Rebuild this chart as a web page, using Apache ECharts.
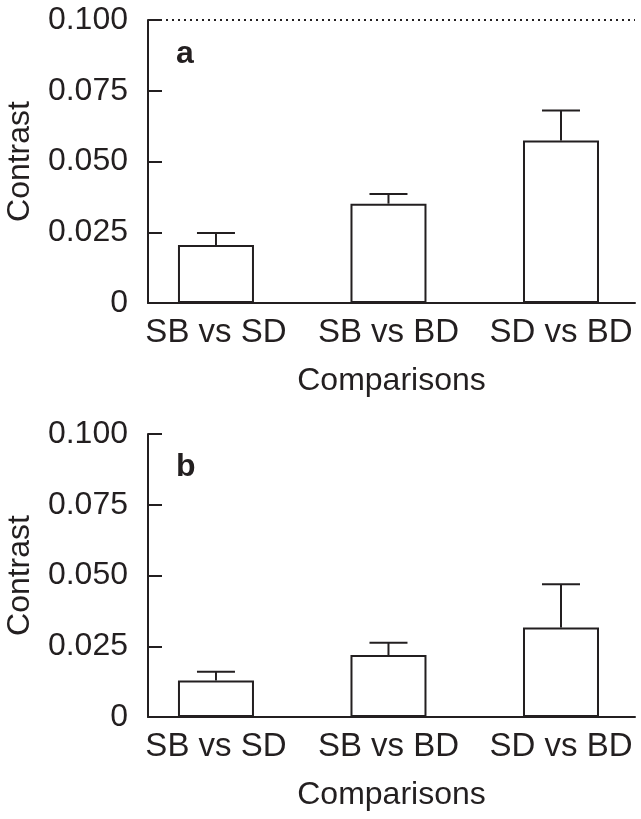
<!DOCTYPE html>
<html>
<head>
<meta charset="utf-8">
<script src="https://cdn.jsdelivr.net/npm/echarts@6/dist/echarts.min.js"></script>
<style>
  html, body { margin: 0; padding: 0; background: #fff; }
  #chart { width: 641px; height: 819px; }
</style>
</head>
<body>
<div id="chart"></div>
<script>
// categories and values
var categories = ['SB vs SD', 'SB vs BD', 'SD vs BD'];
var meanA = [0.0205, 0.0351, 0.0574];
var upperA = [0.0247, 0.0385, 0.0680];
var meanB = [0.0129, 0.0219, 0.0316];
var upperB = [0.0160, 0.0262, 0.0469];

var ink = '#231f20';
var font = 'Liberation Sans, Arial, Helvetica, sans-serif';

function barData(means) {
	return means.map(function(v, i) { return [i, v]; });
}
function errData(means, uppers) {
	return means.map(function(v, i) { return [i, v, uppers[i]]; });
}

// upward-only error bar with a cap
function renderErr(params, api) {
	var x = api.value(0);
	var base = api.coord([x, api.value(1)]);
	var top = api.coord([x, api.value(2)]);
	var half = 19;
	var style = { stroke: ink, lineWidth: 2 };
	return {
		type: 'group',
		children: [
			{ type: 'line', shape: { x1: base[0], y1: base[1], x2: top[0], y2: top[1] }, style: style },
			{ type: 'line', shape: { x1: top[0] - half, y1: top[1], x2: top[0] + half, y2: top[1] }, style: style }
		]
	};
}

function xAxisFor(gridIndex) {
	return {
		type: 'value',
		gridIndex: gridIndex,
		min: -0.394,
		max: 2.429,
		splitLine: { show: false },
		axisTick: { show: false },
		axisLine: { show: true, onZero: false, lineStyle: { color: ink, width: 2 } },
		axisLabel: {
			customValues: [0, 1, 2],
			formatter: function(v) { return categories[Math.round(v)]; },
			color: ink, fontSize: 33, fontFamily: font, margin: 13
		},
		name: 'Comparisons',
		nameLocation: 'middle',
		nameGap: 62,
		nameTextStyle: { color: ink, fontSize: 32, fontFamily: font }
	};
}

function yAxisFor(gridIndex) {
	return {
		type: 'value',
		gridIndex: gridIndex,
		min: 0,
		max: 0.1,
		interval: 0.025,
		splitLine: { show: false },
		axisLine: { show: true, onZero: false, lineStyle: { color: ink, width: 2 } },
		axisTick: { show: true, inside: true, length: 14, lineStyle: { color: ink, width: 2 } },
		axisLabel: {
			formatter: function(v) { return v === 0 ? '0' : v.toFixed(3); },
			color: ink, fontSize: 32, fontFamily: font, margin: 20
		},
		name: 'Contrast',
		nameLocation: 'middle',
		nameGap: 112,
		nameTextStyle: { color: ink, fontSize: 32, fontFamily: font }
	};
}

function barSeries(idx, means, withTopLine) {
	var s = {
		type: 'bar',
		xAxisIndex: idx,
		yAxisIndex: idx,
		barWidth: 76,
		data: barData(means),
		itemStyle: { color: '#fff', borderColor: ink, borderWidth: 2 },
		silent: true
	};
	if (withTopLine) {
		s.markLine = {
			silent: true,
			symbol: 'none',
			label: { show: false },
			lineStyle: { color: ink, type: [2, 4], width: 2 },
			data: [{ yAxis: 0.1 }]
		};
	}
	return s;
}

function errSeries(idx, means, uppers) {
	return {
		type: 'custom',
		xAxisIndex: idx,
		yAxisIndex: idx,
		renderItem: renderErr,
		data: errData(means, uppers),
		z: 3,
		silent: true
	};
}

var chart = echarts.init(document.getElementById('chart'), null, { renderer: 'canvas' });
chart.setOption({
	animation: false,
	backgroundColor: '#fff',
	title: [
		{ text: 'a', left: 171, top: 33, textStyle: { color: ink, fontSize: 32, fontWeight: 'bold', fontFamily: font } },
		{ text: 'b', left: 171, top: 446, textStyle: { color: ink, fontSize: 32, fontWeight: 'bold', fontFamily: font } }
	],
	grid: [
		{ left: 148, top: 20, width: 487, height: 283, outerBoundsMode: 'none', containLabel: false },
		{ left: 148, top: 434, width: 487, height: 283, outerBoundsMode: 'none', containLabel: false }
	],
	xAxis: [xAxisFor(0), xAxisFor(1)],
	yAxis: [yAxisFor(0), yAxisFor(1)],
	series: [
		barSeries(0, meanA, true),
		errSeries(0, meanA, upperA),
		barSeries(1, meanB, false),
		errSeries(1, meanB, upperB)
	]
});
</script>
</body>
</html>
